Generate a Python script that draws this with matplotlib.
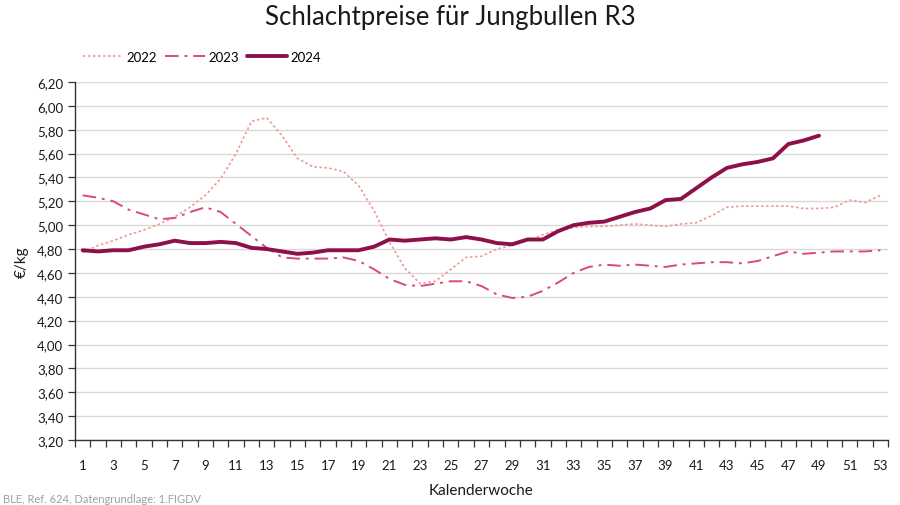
import matplotlib
matplotlib.use("Agg")
import matplotlib.pyplot as plt
from matplotlib.ticker import FuncFormatter, MultipleLocator, FixedLocator

plt.rcParams['font.family'] = ['Lato', 'DejaVu Sans']

weeks = list(range(1, 54))
tick_labels = [str(w) for w in range(1, 54, 2)]

y2022 = [4.77, 4.83, 4.87, 4.92, 4.96, 5.01, 5.07, 5.15, 5.25, 5.39,
         5.60, 5.87, 5.90, 5.75, 5.56, 5.49, 5.48, 5.45, 5.33, 5.12,
         4.86, 4.64, 4.51, 4.53, 4.63, 4.73, 4.74, 4.80, 4.83, 4.87,
         4.92, 4.96, 4.98, 4.99, 4.99, 5.00, 5.01, 5.00, 4.99, 5.01,
         5.02, 5.08, 5.15, 5.16, 5.16, 5.16, 5.16, 5.14, 5.14, 5.15,
         5.21, 5.19, 5.25]
y2023 = [5.25, 5.23, 5.20, 5.13, 5.09, 5.05, 5.06, 5.11, 5.15, 5.11,
         5.01, 4.91, 4.81, 4.73, 4.72, 4.72, 4.72, 4.73, 4.70, 4.63,
         4.55, 4.50, 4.49, 4.51, 4.53, 4.53, 4.49, 4.42, 4.39, 4.40,
         4.45, 4.52, 4.60, 4.65, 4.67, 4.66, 4.67, 4.66, 4.65, 4.67,
         4.68, 4.69, 4.69, 4.68, 4.70, 4.74, 4.78, 4.76, 4.77, 4.78,
         4.78, 4.78, 4.79]
y2024 = [4.79, 4.78, 4.79, 4.79, 4.82, 4.84, 4.87, 4.85, 4.85, 4.86,
         4.85, 4.81, 4.80, 4.78, 4.76, 4.77, 4.79, 4.79, 4.79, 4.82,
         4.88, 4.87, 4.88, 4.89, 4.88, 4.90, 4.88, 4.85, 4.84, 4.88,
         4.88, 4.95, 5.00, 5.02, 5.03, 5.07, 5.11, 5.14, 5.21, 5.22,
         5.31, 5.40, 5.48, 5.51, 5.53, 5.56, 5.68, 5.71, 5.75]

c2022 = '#f09890'
c2023 = '#d64a7e'
c2024 = '#8c1049'

fig = plt.figure(figsize=(9, 5.06), dpi=100)
ax = fig.add_axes([0.0833, 0.1285, 0.9034, 0.7075])

ax.plot(weeks, y2022, color=c2022, lw=1.2, linestyle=(0, (1.5, 1.5)), label='2022')
ax.plot(weeks[:len(y2023)], y2023, color=c2023, lw=1.4, linestyle=(0, (7, 3, 1.5, 3)), label='2023')
ax.plot(weeks[:len(y2024)], y2024, color=c2024, lw=2.8, solid_capstyle='round', label='2024')

ax.set_xlim(0.5, 53.5)
ax.set_ylim(3.2, 6.2)
ax.yaxis.set_major_locator(MultipleLocator(0.2))
ax.yaxis.set_major_formatter(FuncFormatter(lambda v, p: f"{v:.2f}".replace('.', ',')))
ax.grid(axis='y', color='#d9d9d9', lw=1.0)
ax.set_axisbelow(True)

ax.xaxis.set_major_locator(FixedLocator(list(range(1, 54, 2))))
ax.set_xticklabels(tick_labels)
ax.xaxis.set_minor_locator(FixedLocator([w + 0.5 for w in range(0, 54)]))
ax.tick_params(axis='x', which='major', length=0, pad=14, labelsize=9.5, colors='#1a1a1a')
ax.tick_params(axis='x', which='minor', length=5, width=0.9, color='#333333')
ax.tick_params(axis='y', which='major', length=5, width=0.9, color='#333333', labelsize=9.5, labelcolor='#1a1a1a')

for s in ['top', 'right']:
    ax.spines[s].set_visible(False)
for s in ['left', 'bottom']:
    ax.spines[s].set_color('#333333')
    ax.spines[s].set_linewidth(1.0)

ax.set_ylabel('€/kg', fontsize=11, labelpad=6, color='#1a1a1a')
ax.set_xlabel('Kalenderwoche', fontsize=11, labelpad=8, color='#1a1a1a')

fig.text(0.5, 0.965, 'Schlachtpreise für Jungbullen R3', ha='center', va='center', fontsize=18.5, color='#1a1a1a')
fig.text(0.003, 0.002, 'BLE, Ref. 624, Datengrundlage: 1.FIGDV', ha='left', va='bottom', fontsize=8, color='#a0a0a0')

leg = ax.legend(loc='lower left', bbox_to_anchor=(0.01, 1.053), ncol=3, frameon=False,
                fontsize=9.5, handlelength=3.0, handletextpad=0.3, columnspacing=0.6,
                borderaxespad=0, borderpad=0)

fig.savefig('out.png', dpi=100)
